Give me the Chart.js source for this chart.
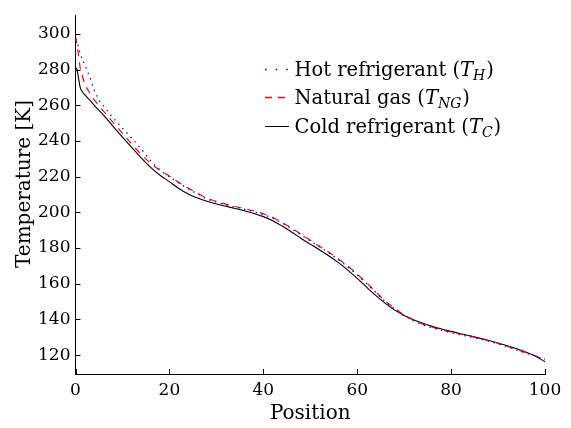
<!DOCTYPE html>
<html>
<head>
<meta charset="utf-8">
<script src="https://cdn.jsdelivr.net/npm/chart.js@4.4.1/dist/chart.umd.min.js"></script>
<style>
html,body{margin:0;padding:0;background:#ffffff;}
#wrap{width:571px;height:428px;position:relative;}
canvas{display:block;}
</style>
</head>
<body>
<div id="wrap"><canvas id="c" width="571" height="428" style="width:571px;height:428px"></canvas></div>
<script>
// ---- data ----
const positions = [0,0.3,0.6,1,1.5,2,3,4,5,6,8,10,12,14,16,18,20,22,24,26,28,30,32,34,36,38,40,42,44,46,48,50,52,54,56,58,60,62,64,66,68,70,72,74,76,78,80,82,84,86,88,90,92,94,96,98,100];
const hotTemps = [297,296,293,289,285.5,282.5,276,268.5,263,259.5,253,247.2,241.5,235.5,229,223.8,220,216.4,213.2,210.3,207.5,205.8,204.2,202.9,201.7,200.4,198.8,196.7,194,190.8,187.4,184,180.6,177.2,173.5,169.4,165,160.1,155,150,145.9,142.1,139.3,137,135.3,133.9,132.6,131.4,130.3,129.1,127.8,126.3,124.6,122.8,121.1,119.4,117.5];
const ngTemps = [298.5,294,289,281,276,272,267,263,259.7,256.6,250.4,244.3,238.2,232.5,227.5,223.5,220.3,216.8,213.6,210.7,207.9,206.2,204.6,203.3,202.1,200.8,199.2,197.1,194.4,191.2,187.8,184.4,181,177.6,173.9,169.8,165.4,160.5,155.3,150.3,146.2,142.4,139.6,137.3,135.6,134.2,132.9,131.8,130.6,129.4,128.1,126.6,124.9,123.1,121.3,119.6,117.8];
const coldTemps = [281,280.2,276,270,267.5,265.8,263,260,257.2,254.4,248.2,242.2,236.3,230.5,225.2,220.8,217.2,213.4,210.3,208,206.2,204.7,203.4,202.2,200.9,199.4,197.6,195.3,192.3,189,185.5,182.2,178.9,175.5,171.8,167.6,163,158.1,153.3,149,145.2,142.2,139.8,137.8,136.1,134.6,133.3,132,130.8,129.5,128.2,126.8,125.2,123.5,121.6,119.3,116.3];
const xTicks = [0,20,40,60,80,100];
const yTicks = [120,140,160,180,200,220,240,260,280,300];
const seriesNames = ['Hot refrigerant', 'Natural gas', 'Cold refrigerant'];
const seriesSubs = ['H', 'NG', 'C'];
const xTitle = 'Position';
const yTitle = 'Temperature [K]';

const FONT = "'DejaVu Serif', serif";
const toXY = (ys) => positions.map((x, i) => ({x: x, y: ys[i]}));

const styles = [
  {color: '#0000ff', dash: [1.4, 4.6], legendDash: [1.6, 9], width: 1.3},
  {color: '#ff0000', dash: [7, 6], legendDash: [7, 6], width: 1.2},
  {color: '#000000', dash: [], legendDash: [], width: 1.1}
];
const seriesData = [hotTemps, ngTemps, coldTemps];

const decor = {
  id: 'decor',
  afterDraw(chart) {
    const ctx = chart.ctx;
    const xs = chart.scales.x, ys = chart.scales.y;
    const area = chart.chartArea;
    ctx.save();
    // inward tick marks
    ctx.strokeStyle = '#000';
    ctx.lineWidth = 1;
    ctx.beginPath();
    xTicks.forEach(v => {
      const px = Math.round(xs.getPixelForValue(v)) + 0.5;
      ctx.moveTo(px, area.bottom);
      ctx.lineTo(px, area.bottom - 5);
    });
    yTicks.forEach(v => {
      const py = Math.round(ys.getPixelForValue(v)) + 0.5;
      ctx.moveTo(area.left, py);
      ctx.lineTo(area.left + 5, py);
    });
    ctx.stroke();

    // axis titles
    ctx.fillStyle = '#000';
    ctx.font = '20px ' + FONT;
    ctx.textAlign = 'center';
    ctx.textBaseline = 'alphabetic';
    ctx.fillText(xTitle, (area.left + area.right) / 2, 419);
    ctx.save();
    ctx.translate(29.5, 184);
    ctx.rotate(-Math.PI / 2);
    ctx.fillText(yTitle, 0, 0);
    ctx.restore();

    // legend
    const rowY = [69.5, 97.5, 126.5];
    for (let i = 0; i < 3; i++) {
      const st = styles[i];
      ctx.strokeStyle = st.color;
      ctx.lineWidth = i === 2 ? 1 : 1.6;
      ctx.lineCap = 'butt';
      ctx.setLineDash(st.legendDash);
      ctx.beginPath();
      ctx.moveTo(265, rowY[i]);
      ctx.lineTo(289, rowY[i]);
      ctx.stroke();
      ctx.setLineDash([]);
      let x = 294.5;
      const base = rowY[i] + 6.5;
      ctx.textAlign = 'left';
      ctx.fillStyle = '#000';
      ctx.font = '19.5px ' + FONT;
      const t1 = seriesNames[i] + ' (';
      ctx.fillText(t1, x, base); x += ctx.measureText(t1).width;
      ctx.font = 'italic 19.5px ' + FONT;
      ctx.fillText('T', x, base); x += ctx.measureText('T').width;
      ctx.font = 'italic 14px ' + FONT;
      ctx.fillText(seriesSubs[i], x, base + 3.5); x += ctx.measureText(seriesSubs[i]).width + 1;
      ctx.font = '19.5px ' + FONT;
      ctx.fillText(')', x, base);
    }
    ctx.restore();
  }
};

new Chart(document.getElementById('c'), {
  type: 'line',
  data: {
    datasets: seriesData.map((ys, i) => ({
      label: seriesNames[i],
      data: toXY(ys),
      borderColor: styles[i].color,
      borderDash: styles[i].dash,
      borderWidth: styles[i].width,
      pointRadius: 0,
      fill: false,
      tension: 0,
      cubicInterpolationMode: 'monotone'
    }))
  },
  options: {
    responsive: false,
    animation: false,
    events: [],
    layout: {padding: {left: 0, top: 5, right: 26, bottom: 0}},
    plugins: {legend: {display: false}, tooltip: {enabled: false}},
    scales: {
      x: {
        type: 'linear', min: 0, max: 100,
        grid: {display: false, drawTicks: false},
        border: {display: true, color: '#000', width: 1},
        afterBuildTicks: (s) => { s.ticks = xTicks.map(v => ({value: v})); },
        afterFit: (s) => { s.height = 54; },
        ticks: {color: '#000', font: {family: FONT, size: 17}, padding: 6, maxRotation: 0}
      },
      y: {
        type: 'linear', min: 109.4, max: 310.5,
        grid: {display: false, drawTicks: false},
        border: {display: true, color: '#000', width: 1},
        afterBuildTicks: (s) => { s.ticks = yTicks.map(v => ({value: v})); },
        afterFit: (s) => { s.width = 75.5; },
        ticks: {color: '#000', font: {family: FONT, size: 17}, padding: 5}
      }
    }
  },
  plugins: [decor]
});
</script>
</body>
</html>
